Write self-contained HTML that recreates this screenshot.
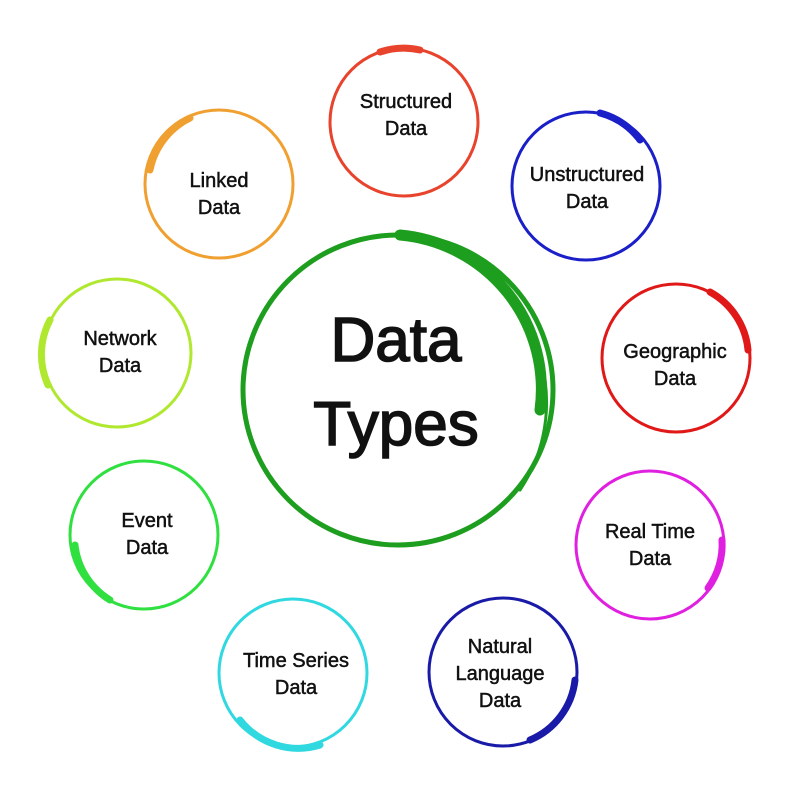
<!DOCTYPE html>
<html><head><meta charset="utf-8"><style>
html,body{margin:0;padding:0;background:#fff;}
svg{display:block}
text{font-family:"Liberation Sans",Arial,sans-serif;fill:#111;stroke:#111;text-anchor:middle}
</style></head><body>
<svg width="788" height="800" viewBox="0 0 788 800" xmlns="http://www.w3.org/2000/svg">
<g fill="none" stroke-linecap="round">
<circle cx="398" cy="390" r="155" stroke="#1e9e1e" stroke-width="5"/>
<path d="M400 235 A155 155 0 0 1 540 410" stroke="#1e9e1e" stroke-width="11"/>
<path d="M545 380 A158 158 0 0 1 520 490" stroke="#1e9e1e" stroke-width="3"/>
<circle cx="404" cy="122" r="74" stroke="#e8432c" stroke-width="3"/>
<path d="M380 52 A74 74 0 0 1 420 50" stroke="#e8432c" stroke-width="7"/>
<circle cx="586" cy="186" r="74" stroke="#1a1fc8" stroke-width="3"/>
<path d="M600 113 A74 74 0 0 1 640 140" stroke="#1a1fc8" stroke-width="7"/>
<circle cx="676" cy="358" r="74" stroke="#e01818" stroke-width="3"/>
<path d="M710 292 A74 74 0 0 1 748 350" stroke="#e01818" stroke-width="7"/>
<circle cx="650" cy="545" r="74" stroke="#e020e0" stroke-width="3"/>
<path d="M722 540 A74 74 0 0 1 708 588" stroke="#e020e0" stroke-width="7"/>
<circle cx="503" cy="672" r="74" stroke="#1a1aa8" stroke-width="3"/>
<path d="M575 680 A74 74 0 0 1 530 740" stroke="#1a1aa8" stroke-width="7"/>
<circle cx="293" cy="673" r="74" stroke="#30d8e0" stroke-width="3"/>
<path d="M240 720 A74 74 0 0 0 320 745" stroke="#30d8e0" stroke-width="7"/>
<circle cx="144" cy="535" r="74" stroke="#30e040" stroke-width="3"/>
<path d="M75 545 A74 74 0 0 0 110 600" stroke="#30e040" stroke-width="7"/>
<circle cx="117" cy="353" r="74" stroke="#b0e830" stroke-width="3"/>
<path d="M50 320 A74 74 0 0 0 48 385" stroke="#b0e830" stroke-width="7"/>
<circle cx="219" cy="184" r="74" stroke="#f0a030" stroke-width="3"/>
<path d="M150 170 A74 74 0 0 1 190 118" stroke="#f0a030" stroke-width="7"/>
</g>
<g font-size="62" stroke-width="1.6">
<text x="396" y="361">Data</text>
<text x="396" y="445">Types</text>
</g>
<g font-size="20" stroke-width="0.5">
<text x="406" y="108">Structured</text><text x="406" y="135">Data</text>
<text x="587" y="181">Unstructured</text><text x="587" y="208">Data</text>
<text x="675" y="358">Geographic</text><text x="675" y="385">Data</text>
<text x="650" y="538">Real Time</text><text x="650" y="565">Data</text>
<text x="500" y="653">Natural</text><text x="500" y="680">Language</text><text x="500" y="707">Data</text>
<text x="296" y="667">Time Series</text><text x="296" y="694">Data</text>
<text x="147" y="527">Event</text><text x="147" y="554">Data</text>
<text x="120" y="345">Network</text><text x="120" y="372">Data</text>
<text x="219" y="187">Linked</text><text x="219" y="214">Data</text>
</g>
</svg>
</body></html>
